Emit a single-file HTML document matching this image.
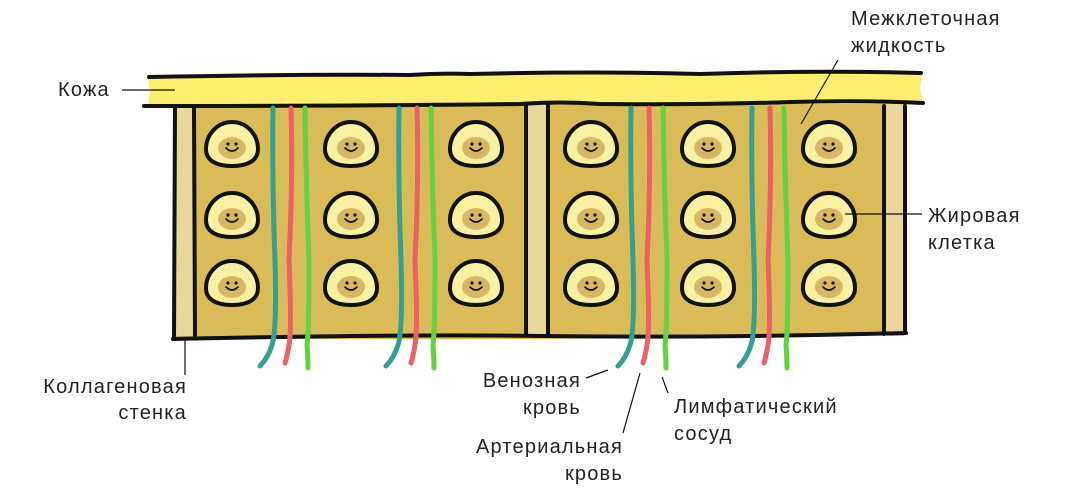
<!DOCTYPE html>
<html><head><meta charset="utf-8"><style>
html,body{margin:0;padding:0;background:#fff}
svg{display:block}
text{font-family:"Liberation Sans",sans-serif;font-size:20px;letter-spacing:1.2px;fill:#222}
</style></head><body>
<svg width="1080" height="492" viewBox="0 0 1080 492" xmlns="http://www.w3.org/2000/svg">
<defs>
<g id="cell">
<path d="M0,-22 C15,-22 26,-9 26,5 C26,17 15,22 0,22 C-15,22 -26,17 -26,5 C-26,-9 -15,-22 0,-22Z" fill="#FAF0A2" stroke="#111" stroke-width="4"/>
<ellipse cx="0" cy="4" rx="14" ry="11" fill="#D7B862"/>
<circle cx="-4" cy="0" r="1.6" fill="#111"/>
<circle cx="4" cy="0" r="1.6" fill="#111"/>
<path d="M-6,4 Q0,10 6,4" fill="none" stroke="#111" stroke-width="1.6" stroke-linecap="round"/>
</g>
</defs>
<path d="M174,104 L906,104 L906,334 Q540,342 174,338 Z" fill="#D9BC57"/>
<rect x="175" y="104" width="18" height="232" fill="#E9D69A"/>
<rect x="528" y="104" width="19" height="232" fill="#E9D69A"/>
<rect x="886" y="104" width="18" height="232" fill="#E9D69A"/>
<g stroke="#111" stroke-width="4" fill="none" stroke-linecap="round">
<line x1="175" y1="106" x2="174" y2="338"/>
<line x1="194" y1="106" x2="195" y2="335"/>
<line x1="526" y1="104" x2="526" y2="335"/>
<line x1="548" y1="104" x2="548" y2="335"/>
<line x1="884" y1="106" x2="884" y2="334"/>
<line x1="905" y1="106" x2="905" y2="333"/>
<path d="M173,339 Q400,334 540,336 Q720,338 906,333"/>
</g>
<path d="M148,78 Q300,74 420,75 Q560,72 700,73 Q820,70 922,73 L920,88 L923,103 Q700,104 540,102 Q350,106 148,106 L150,92 Z" fill="#FCEF6E"/>
<g stroke="#111" stroke-width="4" fill="none" stroke-linecap="round">
<path d="M149,77 Q300,74 410,75 Q440,73 470,74 Q600,71 700,74 Q820,70 921,73"/>
<path d="M144,106 Q350,106 520,104 Q560,101 600,104 Q700,105 790,102 Q860,100 923,103"/>
</g>
<g fill="none" stroke-width="5" stroke-linecap="round">
<g>
<path d="M273,108 Q272,180 275,260 Q277,330 272,345 Q268,358 260,366" stroke="#34A08F"/>
<path d="M291,108 Q293,180 289,260 Q292,330 289,345 Q287,357 285,363" stroke="#EC6067"/>
<path d="M305,108 Q306,180 309,260 Q309,330 307,345 Q308,358 308,368" stroke="#62D23E"/>
</g>
<g transform="translate(126,0)">
<path d="M273,108 Q272,180 275,260 Q277,330 272,345 Q268,358 260,366" stroke="#34A08F"/>
<path d="M291,108 Q293,180 289,260 Q292,330 289,345 Q287,357 285,363" stroke="#EC6067"/>
<path d="M305,108 Q306,180 309,260 Q309,330 307,345 Q308,358 308,368" stroke="#62D23E"/>
</g>
<g transform="translate(358,0)">
<path d="M273,108 Q272,180 275,260 Q277,330 272,345 Q268,358 260,366" stroke="#34A08F"/>
<path d="M291,108 Q293,180 289,260 Q292,330 289,345 Q287,357 285,363" stroke="#EC6067"/>
<path d="M305,108 Q306,180 309,260 Q309,330 307,345 Q308,358 308,368" stroke="#62D23E"/>
</g>
<g transform="translate(479,0)">
<path d="M273,108 Q272,180 275,260 Q277,330 272,345 Q268,358 260,366" stroke="#34A08F"/>
<path d="M291,108 Q293,180 289,260 Q292,330 289,345 Q287,357 285,363" stroke="#EC6067"/>
<path d="M305,108 Q306,180 309,260 Q309,330 307,345 Q308,358 308,368" stroke="#62D23E"/>
</g>
</g>
<g>
<use href="#cell" x="232" y="144"/><use href="#cell" x="351" y="144"/><use href="#cell" x="476" y="144"/>
<use href="#cell" x="591" y="144"/><use href="#cell" x="708" y="144"/><use href="#cell" x="829" y="144"/>
<use href="#cell" x="232" y="215"/><use href="#cell" x="351" y="215"/><use href="#cell" x="476" y="215"/>
<use href="#cell" x="591" y="215"/><use href="#cell" x="708" y="215"/><use href="#cell" x="829" y="215"/>
<use href="#cell" x="232" y="283"/><use href="#cell" x="351" y="283"/><use href="#cell" x="476" y="283"/>
<use href="#cell" x="591" y="283"/><use href="#cell" x="708" y="283"/><use href="#cell" x="829" y="283"/>
</g>
<g stroke="#111" stroke-width="1.2" fill="none">
<line x1="122" y1="90" x2="175" y2="90"/>
<line x1="838" y1="60" x2="801" y2="124"/>
<line x1="845" y1="214" x2="922" y2="214"/>
<line x1="185" y1="340" x2="185" y2="375"/>
<line x1="586" y1="378" x2="608" y2="370"/>
<line x1="623" y1="433" x2="640" y2="373"/>
<line x1="668" y1="393" x2="662" y2="377"/>
</g>
<text x="58" y="96">Кожа</text>
<text x="851" y="25">Межклеточная</text>
<text x="851" y="52">жидкость</text>
<text x="928" y="222">Жировая</text>
<text x="928" y="249">клетка</text>
<text x="187" y="393" text-anchor="end">Коллагеновая</text>
<text x="187" y="419" text-anchor="end">стенка</text>
<text x="581" y="387" text-anchor="end">Венозная</text>
<text x="581" y="414" text-anchor="end">кровь</text>
<text x="623" y="453" text-anchor="end">Артериальная</text>
<text x="623" y="480" text-anchor="end">кровь</text>
<text x="674" y="413">Лимфатический</text>
<text x="674" y="440">сосуд</text>
</svg>
</body></html>
